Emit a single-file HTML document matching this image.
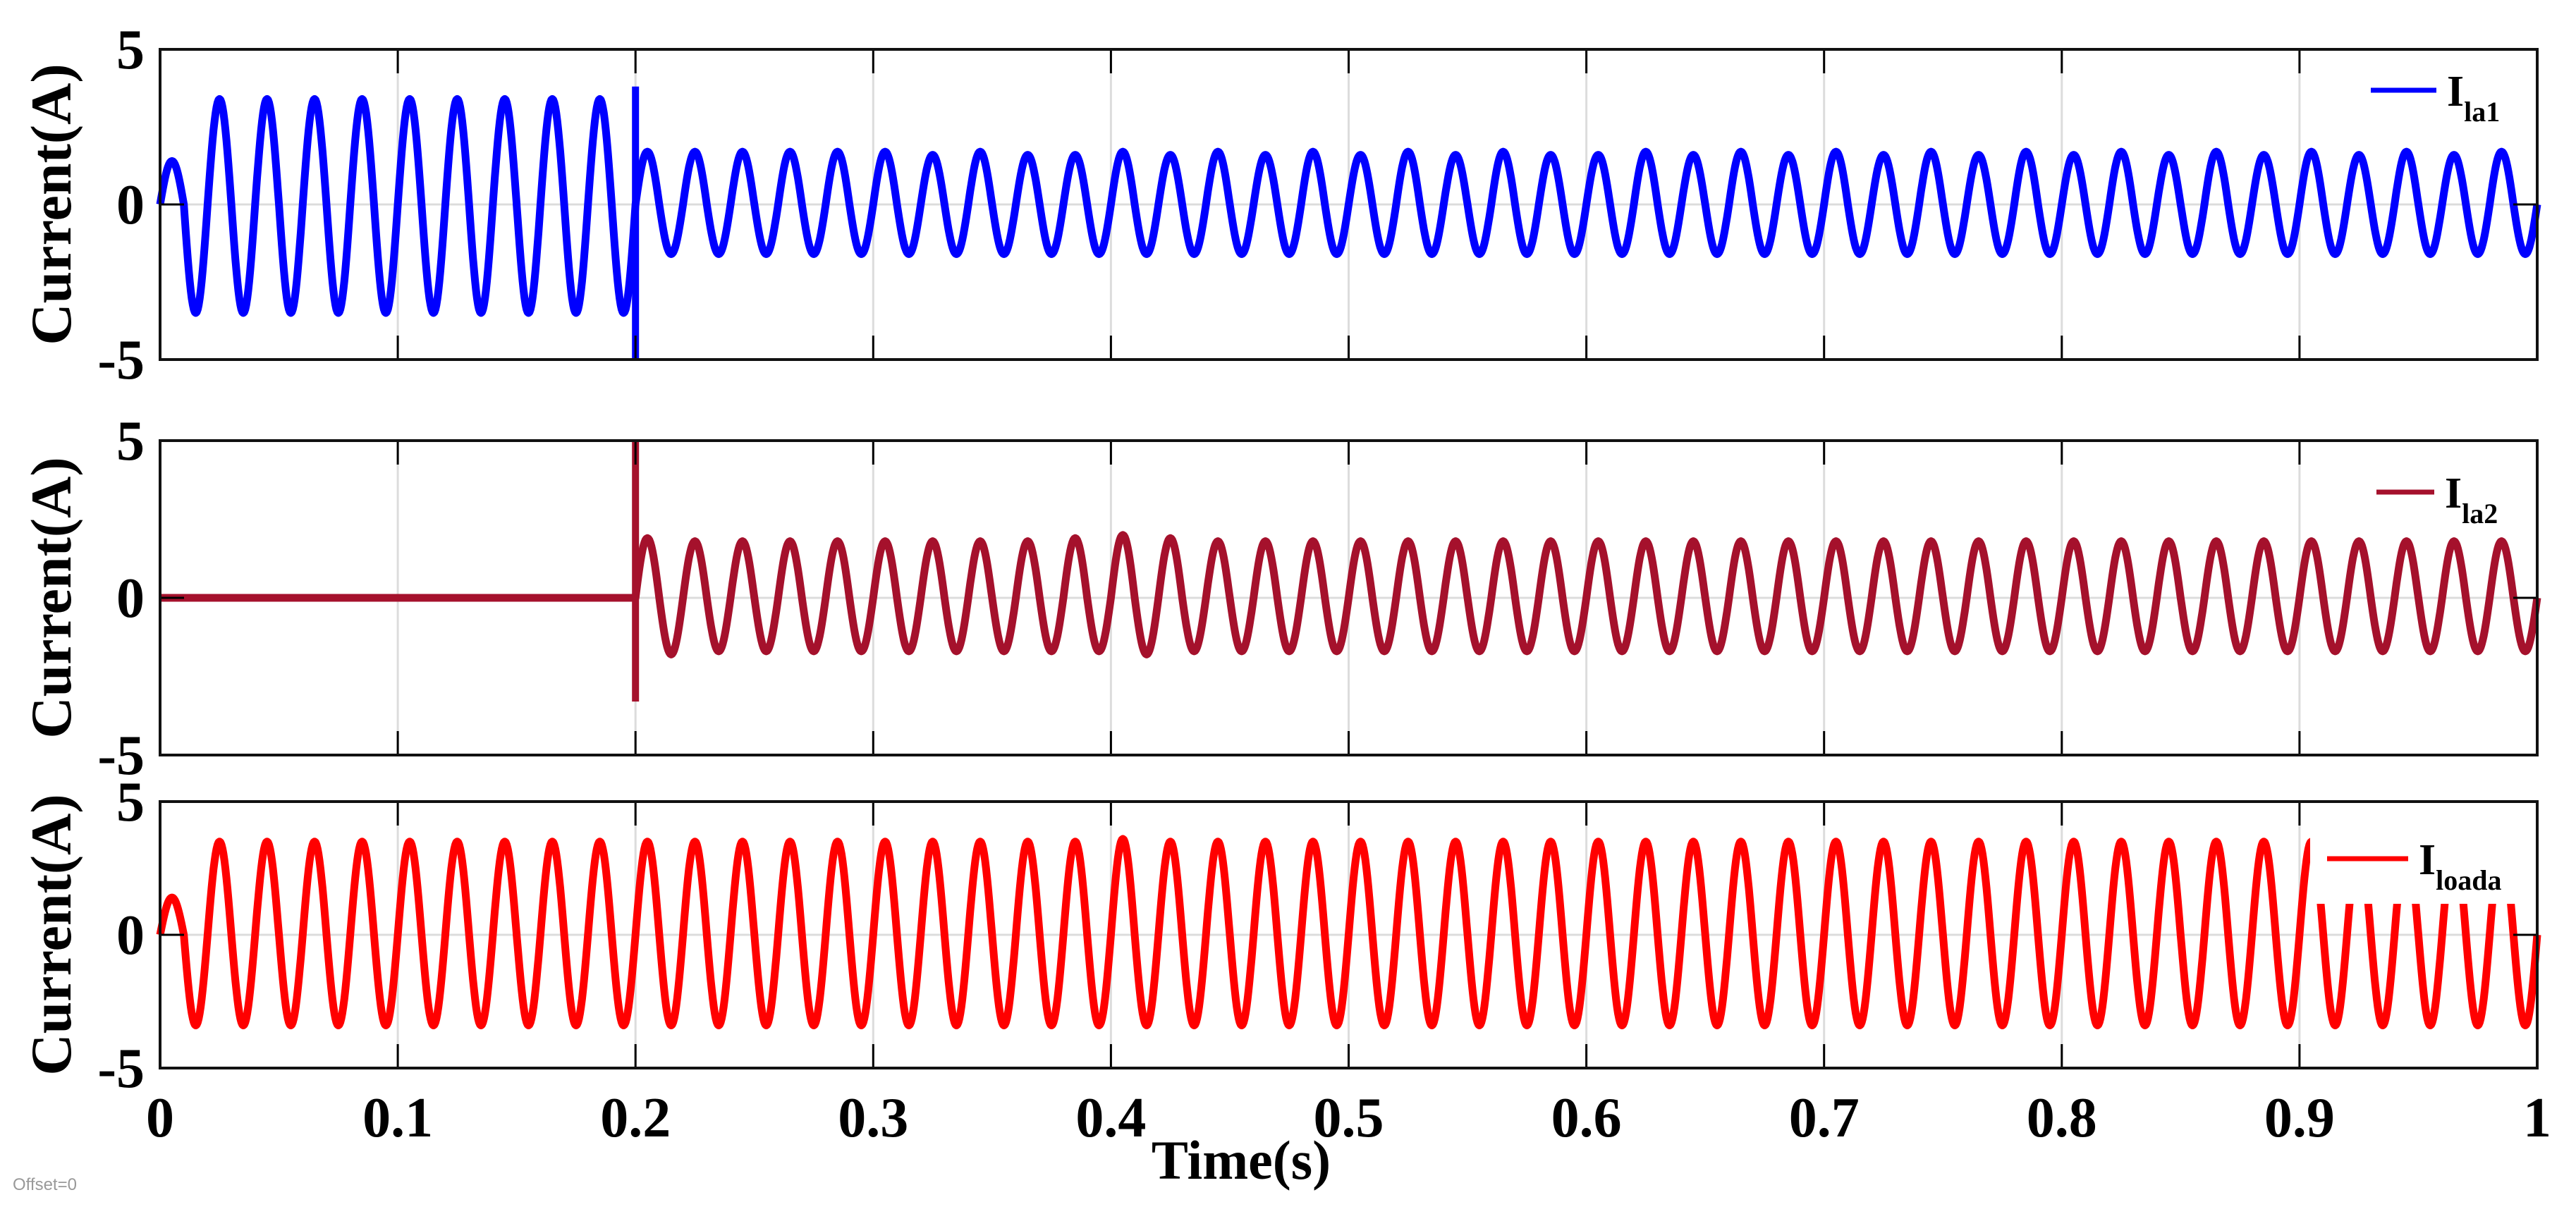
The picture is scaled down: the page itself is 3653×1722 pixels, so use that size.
<!DOCTYPE html>
<html><head><meta charset="utf-8"><style>
html,body{margin:0;padding:0;background:#fff;}
svg{display:block;font-family:"Liberation Serif",serif;}
</style></head><body>
<svg id="chart" width="3653" height="1722" viewBox="0 0 3653 1722" xmlns="http://www.w3.org/2000/svg">
<text x="18" y="1688" font-family="Liberation Sans, sans-serif" font-size="24" fill="#999">Offset=0</text>
<text x="1760" y="1672" font-size="78" font-weight="bold" text-anchor="middle">Time(s)</text>
</svg>
<script>
const xTicks = [0,0.1,0.2,0.3,0.4,0.5,0.6,0.7,0.8,0.9,1];
const xTickLabels = ["0","0.1","0.2","0.3","0.4","0.5","0.6","0.7","0.8","0.9","1"];
const yTicks = [-5,0,5];
const yTickLabels = ["-5","0","5"];
const freqHz = 50;
// half-cycle amplitudes (100 half cycles over 1 s)
const ampTop = [1.4,3.5,3.4,3.5,3.4,3.5,3.4,3.5,3.4,3.5,3.4,3.5,3.4,3.5,3.4,3.5,3.4,3.5,3.4,3.5,
 1.7,1.6,1.7,1.6,1.7,1.6,1.7,1.6,1.7,1.6,1.7,1.6,1.6,1.6,1.7,1.6,1.6,1.6,1.6,1.6,
 1.7,1.6,1.6,1.6,1.7,1.6,1.6,1.6,1.7,1.6,1.6,1.6,1.7,1.6,1.6,1.6,1.7,1.6,1.6,1.6,
 1.6,1.6,1.7,1.6,1.6,1.6,1.7,1.6,1.6,1.6,1.7,1.6,1.6,1.6,1.7,1.6,1.6,1.6,1.7,1.6,
 1.6,1.6,1.7,1.6,1.6,1.6,1.7,1.6,1.6,1.6,1.7,1.6,1.6,1.6,1.7,1.6,1.6,1.6,1.7,1.6];
const ampMid = [0,0,0,0,0,0,0,0,0,0,0,0,0,0,0,0,0,0,0,0,
 1.9,1.8,1.8,1.7,1.8,1.7,1.8,1.7,1.8,1.7,1.8,1.7,1.8,1.7,1.8,1.7,1.8,1.7,1.9,1.7,
 2.0,1.8,1.9,1.7,1.8,1.7,1.8,1.7,1.8,1.7,1.8,1.7,1.8,1.7,1.8,1.7,1.8,1.7,1.8,1.7,
 1.8,1.7,1.8,1.7,1.8,1.7,1.8,1.7,1.8,1.7,1.8,1.7,1.8,1.7,1.8,1.7,1.8,1.7,1.8,1.7,
 1.8,1.7,1.8,1.7,1.8,1.7,1.8,1.7,1.8,1.7,1.8,1.7,1.8,1.7,1.8,1.7,1.8,1.7,1.8,1.7];
const ampBot = [1.4,3.4,3.5,3.4,3.5,3.4,3.5,3.4,3.5,3.4,3.5,3.4,3.5,3.4,3.5,3.4,3.5,3.4,3.5,3.4,
 3.5,3.4,3.5,3.4,3.5,3.4,3.5,3.4,3.5,3.4,3.5,3.4,3.5,3.4,3.5,3.4,3.5,3.4,3.5,3.4,
 3.6,3.4,3.5,3.4,3.5,3.4,3.5,3.4,3.5,3.4,3.5,3.4,3.5,3.4,3.5,3.4,3.5,3.4,3.5,3.4,
 3.5,3.4,3.5,3.4,3.5,3.4,3.5,3.4,3.5,3.4,3.5,3.4,3.5,3.4,3.5,3.4,3.5,3.4,3.5,3.4,
 3.5,3.4,3.5,3.4,3.5,3.4,3.5,3.4,3.5,3.4,3.5,3.4,3.5,3.4,3.5,3.4,3.5,3.4,3.5,3.4];
const spikeTop = [3.8,-5];
const spikeMid = [5,-3.3];
const spikeTime = 0.2;
const seriesNames = ["la1","la2","loada"];

const NS="http://www.w3.org/2000/svg";
const svg=document.getElementById('chart');
const X0=227,X1=3598;
const xs=t=>X0+(X1-X0)*t;
function mk(tag,attrs,parent){const e=document.createElementNS(NS,tag);for(const k in attrs)e.setAttribute(k,attrs[k]);(parent||svg).appendChild(e);return e;}

const panels=[
 {top:70,bot:510,amps:ampTop,spike:spikeTop,color:"#0000ff",name:"la1",legY:128,legX1:3362,legX2:3455,box:null,showX:false},
 {top:625,bot:1071,amps:ampMid,spike:spikeMid,color:"#a5112c",name:"la2",legY:698,legX1:3370,legX2:3452,box:null,showX:false},
 {top:1137,bot:1515,amps:ampBot,spike:null,color:"#ff0000",name:"loada",legY:1218,legX1:3300,legX2:3415,box:[3276,1140,3590,1282],showX:true}
];

panels.forEach((p,pi)=>{
 const g=mk('g',{});
 
 
 const ys=v=>(p.top+p.bot)/2-(p.bot-p.top)/10*v;
 xTicks.forEach((t,i)=>{
  if(i>0&&i<xTicks.length-1){
   const l=mk('line',{x1:xs(t),x2:xs(t),y1:p.top,y2:p.bot,stroke:"#dcdcdc","stroke-width":3},g);
   
   
  }
 });
 const gz=mk('line',{x1:X0,x2:X1,y1:ys(0),y2:ys(0),stroke:"#dcdcdc","stroke-width":3},g);
 
 
 let d="";
 const half=1/(2*freqHz);
 p.amps.forEach((a,k)=>{
  const N=24;
  for(let j=0;j<=N;j++){
   const t=k*half+half*j/N;
   const v=a*Math.sin(2*Math.PI*freqHz*t);
   d+=(d?"L":"M")+xs(t).toFixed(1)+","+ys(v).toFixed(1);
  }
 });
 const path=mk('path',{d:d,fill:"none",stroke:p.color,"stroke-width":11,"stroke-linejoin":"round"},g);
 
 
 if(p.spike){
  const s=mk('line',{x1:xs(spikeTime),x2:xs(spikeTime),y1:ys(p.spike[0]),y2:ys(p.spike[1]),stroke:p.color,"stroke-width":10},g);
  
  
 }
 if(p.box){const b=mk('rect',{x:p.box[0],y:p.box[1],width:p.box[2]-p.box[0],height:p.box[3]-p.box[1],fill:"#fff"},g);
  
  }
 const lg=mk('g',{},g);
 
 
 mk('line',{x1:p.legX1,x2:p.legX2,y1:p.legY,y2:p.legY,stroke:p.color,"stroke-width":7},lg);
 const lt=mk('text',{x:p.legX2+15,y:p.legY+22,"font-size":62,"font-weight":"bold"},lg);
 lt.textContent="I";
 const sub=mk('tspan',{"font-size":40,dy:22},lt);
 sub.textContent=p.name;
 xTicks.forEach((t,i)=>{
  if(i>0&&i<xTicks.length-1){
   mk('line',{x1:xs(t),x2:xs(t),y1:p.top,y2:p.top+34,stroke:"#000","stroke-width":3},g);
   mk('line',{x1:xs(t),x2:xs(t),y1:p.bot,y2:p.bot-34,stroke:"#000","stroke-width":3},g);
  }
 });
 mk('line',{x1:X0,x2:X0+34,y1:ys(0),y2:ys(0),stroke:"#000","stroke-width":3},g);
 mk('line',{x1:X1,x2:X1-34,y1:ys(0),y2:ys(0),stroke:"#000","stroke-width":3},g);
 const fr=mk('rect',{x:X0,y:p.top,width:X1-X0,height:p.bot-p.top,fill:"none",stroke:"#111","stroke-width":4},g);
 
 
 yTicks.forEach((v,i)=>{
  const tx=mk('text',{x:205,y:ys(v)+27,"font-size":80,"font-weight":"bold","text-anchor":"end"},g);
  tx.textContent=yTickLabels[i];
  
  
 });
 const yt=mk('text',{x:0,y:0,"font-size":82,"font-weight":"bold","text-anchor":"middle",transform:`translate(100,${(p.top+p.bot)/2}) rotate(-90)`},g);
 yt.textContent="Current(A)";
 
 
 if(p.showX){
  xTicks.forEach((t,i)=>{
   const tx=mk('text',{x:xs(t),y:1612,"font-size":80,"font-weight":"bold","text-anchor":"middle"},g);
   tx.textContent=xTickLabels[i];
   
   
  });
 }
});
</script>
</body></html>
